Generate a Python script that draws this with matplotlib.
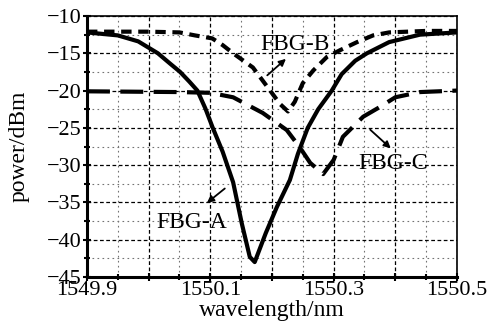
import matplotlib
matplotlib.use('Agg')
import numpy as np
import matplotlib.pyplot as plt
from matplotlib.ticker import MultipleLocator, FuncFormatter

plt.rcParams['font.family'] = ['Liberation Serif', 'DejaVu Serif']

# FBG-A (solid)
wl_a = [1549.90, 1549.95, 1549.983, 1550.015, 1550.035, 1550.051, 1550.066, 1550.079,
        1550.092, 1550.104, 1550.12, 1550.137, 1550.151, 1550.164, 1550.172, 1550.19,
        1550.208, 1550.229, 1550.242, 1550.258, 1550.275, 1550.297, 1550.313, 1550.335,
        1550.354, 1550.39, 1550.44, 1550.50]
p_a = [-12.2, -12.6, -13.4, -15.0, -16.4, -17.5, -18.8, -20.0,
       -22.4, -25.0, -28.2, -32.3, -37.8, -42.3, -43.0, -39.1,
       -35.6, -32.0, -28.5, -25.0, -22.5, -20.0, -17.8, -16.0,
       -15.0, -13.5, -12.5, -12.2]

# FBG-B (short dash)
wl_b = [1549.90, 1550.00, 1550.05, 1550.075, 1550.103, 1550.12, 1550.137, 1550.169,
        1550.197, 1550.213, 1550.226, 1550.237, 1550.25, 1550.267, 1550.289, 1550.31,
        1550.338, 1550.364, 1550.39, 1550.45, 1550.50]
p_b = [-12.1, -12.1, -12.2, -12.6, -13.0, -13.9, -15.0, -16.9,
       -20.0, -21.8, -22.8, -21.5, -19.0, -17.3, -15.5, -14.6,
       -13.5, -12.6, -12.2, -12.0, -12.0]

# FBG-C (long dash)
wl_c = [1549.90, 1550.05, 1550.10, 1550.137, 1550.185, 1550.224, 1550.245, 1550.262,
        1550.283, 1550.30, 1550.315, 1550.348, 1550.375, 1550.40, 1550.44, 1550.50]
p_c = [-20.1, -20.2, -20.3, -20.9, -23.0, -25.3, -27.6, -29.7,
       -31.2, -29.3, -26.2, -23.5, -22.2, -20.9, -20.2, -20.0]

fig = plt.figure(figsize=(4.92, 3.28), dpi=100)
ax = fig.add_axes([0.1768, 0.1555, 0.752, 0.7957])

ax.plot(wl_a, p_a, '-', color='black', lw=3.0, solid_joinstyle='round')
ax.plot(wl_b, p_b, color='black', lw=3.0, dashes=(2.5, 1.6))
ax.plot(wl_c, p_c, color='black', lw=3.0, dashes=(5.5, 2.5))

ax.set_xlim(1549.9, 1550.5)
ax.set_ylim(-45, -10)
ax.xaxis.set_major_locator(MultipleLocator(0.1))
ax.xaxis.set_minor_locator(MultipleLocator(0.05))
ax.yaxis.set_major_locator(MultipleLocator(5))
ax.yaxis.set_minor_locator(MultipleLocator(2.5))

def xfmt(v, pos):
    k = (v - 1549.9) / 0.2
    if abs(k - round(k)) < 1e-3:
        return '%.1f' % v
    return ''
ax.xaxis.set_major_formatter(FuncFormatter(xfmt))

ax.grid(which='major', color='black', ls=(0, (3, 2)), lw=0.9)
ax.grid(which='minor', color='0.45', ls=(0, (1.5, 3)), lw=0.8)

ax.tick_params(which='both', direction='inout', labelsize=16, width=1.5)
ax.tick_params(which='major', length=6)
ax.tick_params(which='minor', length=5)
ax.tick_params(axis='x', pad=0)
ax.tick_params(axis='y', pad=1)
for s in ['left', 'bottom']:
    ax.spines[s].set_linewidth(2.2)
for s in ['top', 'right']:
    ax.spines[s].set_linewidth(1.2)

ax.set_xlabel('wavelength/nm', fontsize=17, labelpad=0)
ax.set_ylabel('power/dBm', fontsize=17, labelpad=12)

arr = dict(arrowstyle='-|>', color='black', lw=1.3, mutation_scale=10)
ax.annotate('', xy=(1550.226, -15.5), xytext=(1550.189, -18.2), arrowprops=arr)
ax.text(1550.237, -13.8, 'FBG-B', fontsize=17, ha='center', va='center')
ax.annotate('', xy=(1550.396, -28.0), xytext=(1550.356, -25.0), arrowprops=arr)
ax.text(1550.396, -29.8, 'FBG-C', fontsize=17, ha='center', va='center')
ax.annotate('', xy=(1550.091, -35.3), xytext=(1550.127, -32.9), arrowprops=arr)
ax.text(1550.07, -37.7, 'FBG-A', fontsize=17, ha='center', va='center')

fig.savefig('out.png', dpi=100)
